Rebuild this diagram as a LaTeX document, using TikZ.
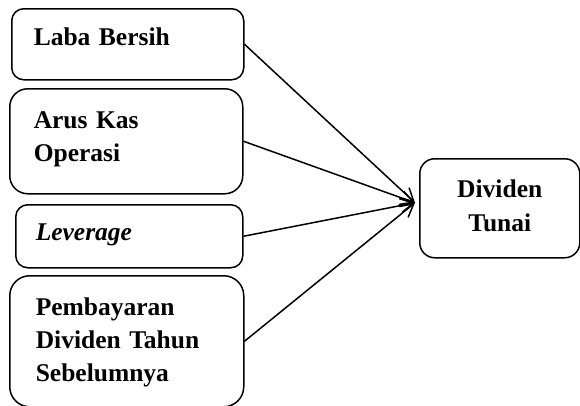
\documentclass[tikz,border=0pt]{standalone}
\usepackage{fontspec}
\setmainfont{Liberation Serif}
\usepackage{tikz}
\usetikzlibrary{arrows.meta,positioning}
\tikzset{
  kotak/.style={draw, line width=1.5pt, anchor=north west, align=left, inner ysep=0pt, font=\fontsize{25.5}{33}\selectfont\bfseries},
  hasil/.style={draw, line width=1.5pt, anchor=north west, align=center, inner ysep=0pt, font=\fontsize{25.5}{34}\selectfont\bfseries},
  panah/.style={-{Straight Barb[length=13pt,width=14pt]}, line width=1.5pt}
}

\begin{document}
\begin{tikzpicture}[x=1pt, y=-1pt]
    \useasboundingbox (0,0) rectangle (580,405);
    % Nodes
    \node[kotak, rounded corners=12pt, inner xsep=22pt, text width=188pt, text height=37pt, text depth=34pt] (laba) at (11,8) {Laba Bersih};
    \node[kotak, rounded corners=18pt, inner xsep=24pt, text width=185pt, text height=40pt, text depth=65pt] (arus) at (9,88) {Arus Kas\\Operasi};
    \node[kotak, rounded corners=12pt, inner xsep=20pt, text width=187pt, text height=36pt, text depth=27pt] (leverage) at (15,204) {\itshape Leverage};
    \node[kotak, rounded corners=20pt, inner xsep=26pt, text width=182pt, text height=40pt, text depth=91pt] (bayar) at (9,275) {Pembayaran\\\makebox[172pt][s]{Dividen Tahun}\\Sebelumnya};
    \node[hasil, rounded corners=15pt, inner xsep=10pt, text width=140pt, text height=39pt, text depth=60pt] (tunai) at (419,158) {Dividen\\Tunai};
    
    % Edges
    \draw[panah] (laba.east) -- ([yshift=5.5pt, xshift=-4pt]tunai.west);
    \draw[panah] (arus.east) -- ([yshift=5.5pt, xshift=-4pt]tunai.west);
    \draw[panah] (leverage.east) -- ([yshift=5.5pt, xshift=-4pt]tunai.west);
    \draw[panah] (bayar.east) -- ([yshift=5.5pt, xshift=-4pt]tunai.west);
\end{tikzpicture}
\end{document}
